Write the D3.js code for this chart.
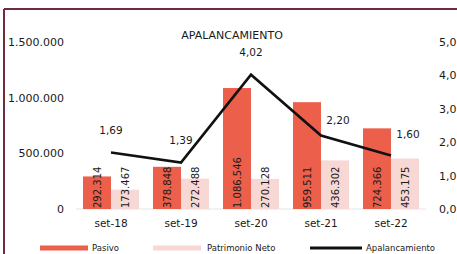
<!DOCTYPE html>
<html>
<head>
<meta charset="utf-8">
<script src="https://cdn.jsdelivr.net/npm/d3@7"></script>
<style>
  body { margin: 0; background: #fff; }
  text { font-family: "DejaVu Sans", Verdana, sans-serif; fill: #1a1a1a; }
</style>
</head>
<body>
<script>
const periods = ['set-18', 'set-19', 'set-20', 'set-21', 'set-22'];
const pasivo = [292314, 378848, 1086546, 959511, 724366];
const patrimonio = [173467, 272488, 270128, 436302, 453175];
const apalancamiento = [1.69, 1.39, 4.02, 2.20, 1.60];
const leftTicks = [0, 500000, 1000000, 1500000];
const rightTicks = [0, 1, 2, 3, 4, 5];
const seriesNames = ['Pasivo', 'Patrimonio Neto'];

const width = 457, height = 254;
const colors = { 'Pasivo': '#ec5f4b', 'Patrimonio Neto': '#f7d8d4' };

const fmtInt = v => d3.format(',')(v).replace(/,/g, '.');
const fmtDec = (d) => v => v.toFixed(d).replace('.', ',');

const svg = d3.select('body').append('svg')
    .attr('width', width)
    .attr('height', height);

// frame
svg.append('line').attr('x1', 4).attr('x2', 4).attr('y1', 9).attr('y2', height)
    .attr('stroke', '#6e2c3c').attr('stroke-width', 2);
svg.append('line').attr('x1', 4).attr('x2', width).attr('y1', 9).attr('y2', 9)
    .attr('stroke', '#6e2c3c').attr('stroke-width', 2);

const x0 = d3.scaleBand().domain(periods).range([76, 426]);
const x1 = d3.scaleBand().domain(seriesNames).range([7, 63]);
const y = d3.scaleLinear().domain([0, 1500000]).range([209, 42]);
const y2 = d3.scaleLinear().domain([0, 5]).range([209, 42]);

// left axis
const yAxis = d3.axisLeft(y).tickValues(leftTicks).tickFormat(fmtInt).tickSize(0).tickPadding(0);
svg.append('g')
    .attr('transform', 'translate(64,0)')
    .call(yAxis)
    .call(g => g.select('.domain').remove())
    .selectAll('text')
    .style('font-size', '11px')
    .attr('fill', '#1a1a1a');

// right axis
const y2Axis = d3.axisRight(y2).tickValues(rightTicks).tickFormat(fmtDec(1)).tickSize(0).tickPadding(0);
svg.append('g')
    .attr('transform', 'translate(439,0)')
    .call(y2Axis)
    .call(g => g.select('.domain').remove())
    .selectAll('text')
    .style('font-size', '11px')
    .attr('fill', '#1a1a1a');

// baseline
svg.append('line')
    .attr('x1', x0.range()[0]).attr('x2', x0.range()[1])
    .attr('y1', y(0)).attr('y2', y(0))
    .attr('stroke', '#e4e4e4');

// bars
const groups = svg.selectAll('.grp')
  .data(periods)
  .enter().append('g')
    .attr('class', 'grp')
    .attr('transform', d => 'translate(' + x0(d) + ',0)');

const barData = (p, i) => [
  { key: 'Pasivo', value: pasivo[i] },
  { key: 'Patrimonio Neto', value: patrimonio[i] }
];

groups.selectAll('rect')
  .data(barData)
  .enter().append('rect')
    .attr('x', d => x1(d.key))
    .attr('y', d => y(d.value))
    .attr('width', x1.bandwidth())
    .attr('height', d => y(0) - y(d.value))
    .attr('fill', d => colors[d.key]);

groups.selectAll('.val')
  .data(barData)
  .enter().append('text')
    .attr('class', 'val')
    .attr('transform', d => 'translate(' + (x1(d.key) + x1.bandwidth() / 2 + 4) + ',' + (y(0) - 1) + ') rotate(-90)')
    .style('font-size', '10px')
    .text(d => fmtInt(d.value));

// x labels
svg.append('g')
    .attr('transform', 'translate(0,' + y(0) + ')')
    .call(d3.axisBottom(x0).tickSize(0).tickPadding(11))
    .call(g => g.select('.domain').remove())
    .selectAll('text')
    .style('font-size', '10.5px')
    .attr('fill', '#1a1a1a');

// line
const cx = p => x0(p) + x0.bandwidth() / 2;
const line = d3.line()
    .x((d, i) => cx(periods[i]))
    .y(d => y2(d));

svg.append('path')
    .datum(apalancamiento)
    .attr('fill', 'none')
    .attr('stroke', '#111')
    .attr('stroke-width', 2.6)
    .attr('d', line);

// labels sit above the point, the last two shifted right of the line
svg.selectAll('.lbl')
  .data(apalancamiento)
  .enter().append('text')
    .attr('class', 'lbl')
    .attr('x', (d, i) => cx(periods[i]) + (i > 2 ? 17 : 0))
    .attr('y', (d, i) => y2(d) - (i === 3 ? 12 : i === 4 ? 18 : 19))
    .attr('text-anchor', 'middle')
    .style('font-size', '10.5px')
    .text(fmtDec(2));

// title
svg.append('text')
    .attr('x', 232)
    .attr('y', 39)
    .attr('text-anchor', 'middle')
    .style('font-size', '11px')
    .text('APALANCAMIENTO');

// legend
const legend = svg.append('g').attr('transform', 'translate(0,248)');
legend.append('rect').attr('x', 40).attr('y', -2.5).attr('width', 48).attr('height', 5).attr('fill', colors['Pasivo']);
legend.append('text').attr('x', 92).attr('y', 3).style('font-size', '8.5px').text('Pasivo');
legend.append('rect').attr('x', 153).attr('y', -2.5).attr('width', 48).attr('height', 5).attr('fill', colors['Patrimonio Neto']);
legend.append('text').attr('x', 207).attr('y', 3).style('font-size', '8.5px').text('Patrimonio Neto');
legend.append('line').attr('x1', 310).attr('x2', 362).attr('y1', 0).attr('y2', 0).attr('stroke', '#111').attr('stroke-width', 3);
legend.append('text').attr('x', 366).attr('y', 3).style('font-size', '8.5px').text('Apalancamiento');
</script>
</body>
</html>
